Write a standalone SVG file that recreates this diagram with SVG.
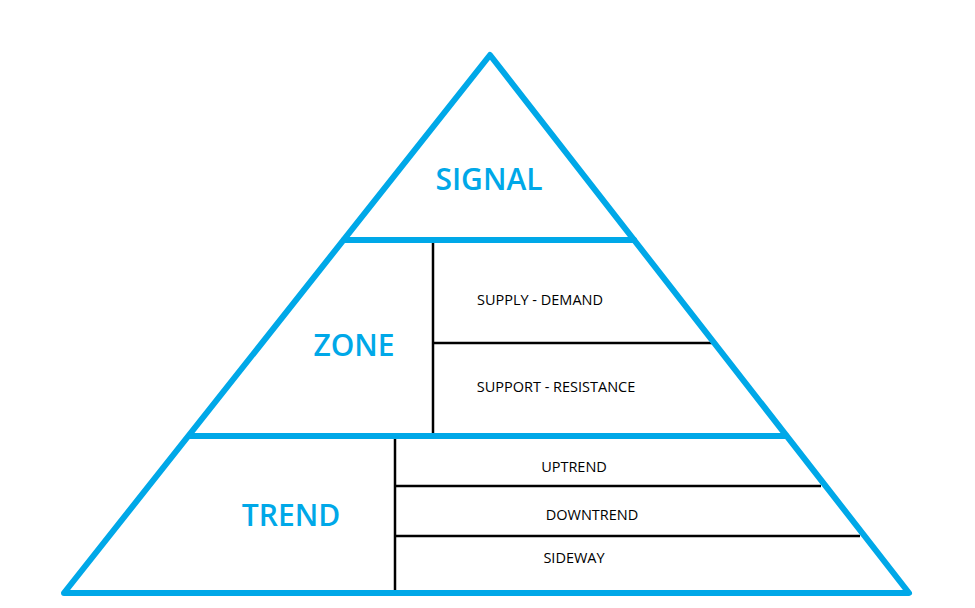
<svg xmlns="http://www.w3.org/2000/svg" width="975" height="608" viewBox="0 0 975 608">
<style>
.b{stroke:#00A8E8;stroke-width:6;fill:none;stroke-linejoin:round;stroke-linecap:round}
.k{stroke:#000;stroke-width:2.5;fill:none}
.big{font-family:"Open Sans","Liberation Sans",sans-serif;font-size:30px;font-weight:600;fill:#00A8E8;text-anchor:middle;dominant-baseline:central}
.sm{font-family:"Open Sans","Liberation Sans",sans-serif;font-size:14.5px;fill:#000;text-anchor:middle;dominant-baseline:central}
</style>
<rect width="975" height="608" fill="#fff"/>
<g id="connectors">
<line class="k" x1="433" y1="240" x2="433" y2="436"/>
<line class="k" x1="433" y1="343" x2="712" y2="343"/>
<line class="k" x1="395" y1="436" x2="395" y2="593"/>
<line class="k" x1="395" y1="486" x2="821" y2="486"/>
<line class="k" x1="395" y1="536" x2="860" y2="536"/>
</g>
<g id="pyramid">
<polygon class="b" points="490,55 909,593 64,593"/>
<line class="b" x1="344" y1="240" x2="634" y2="240"/>
<line class="b" x1="190" y1="436" x2="786" y2="436"/>
</g>
<g id="signal"><text class="big" x="489" y="178">SIGNAL</text></g>
<g id="zone"><text class="big" x="354" y="344">ZONE</text></g>
<g id="trend"><text class="big" x="291" y="514">TREND</text></g>
<g id="supply"><text class="sm" x="540" y="299">SUPPLY - DEMAND</text></g>
<g id="support"><text class="sm" x="556" y="386">SUPPORT - RESISTANCE</text></g>
<g id="uptrend"><text class="sm" x="574" y="466">UPTREND</text></g>
<g id="downtrend"><text class="sm" x="592" y="514">DOWNTREND</text></g>
<g id="sideway"><text class="sm" x="574" y="557">SIDEWAY</text></g>
</svg>
